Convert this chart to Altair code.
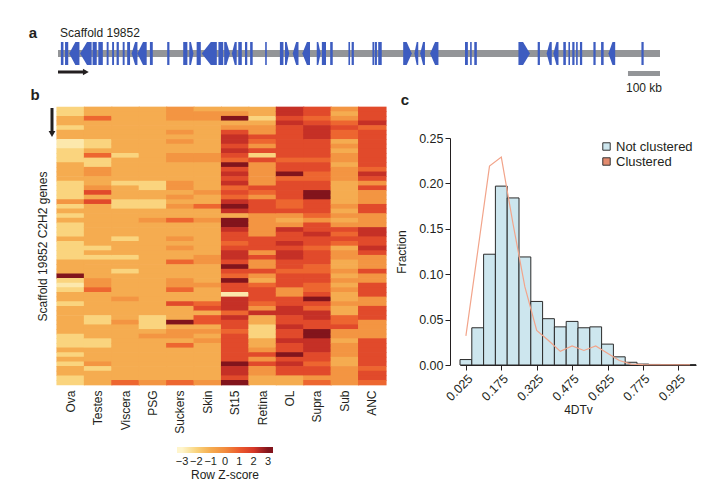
import altair as alt
import pandas as pd

FONT = "Liberation Sans"
INK = "#231f20"

# ---------------- panel a : scaffold with genes ----------------
scaffold_length_kb = 1880
scale_bar_kb = 100
gene_start_kb = [9, 22, 35, 69, 108, 126, 152, 169, 183, 202, 216, 230, 248, 287, 341, 391, 410, 433, 449, 501,
                 519, 543, 563, 584, 600, 647, 693, 709, 733, 763, 808, 824, 850, 907, 917, 982, 990, 1000, 1078, 1113,
                 1131, 1162, 1271, 1287, 1300, 1438, 1498, 1526, 1547, 1578, 1594, 1606, 1618, 1630, 1672, 1696, 1719, 1822]
gene_end_kb = [17, 32, 67, 105, 121, 140, 158, 175, 190, 208, 225, 248, 277, 296, 348, 404, 423, 446, 496, 516,
               537, 558, 574, 591, 608, 652, 704, 722, 751, 787, 820, 837, 858, 912, 924, 988, 996, 1011, 1105, 1125,
               1146, 1188, 1280, 1292, 1308, 1474, 1505, 1542, 1563, 1586, 1599, 1613, 1623, 1637, 1679, 1704, 1740, 1829]
gene_strand = ["|", "|", "<", "<", "|", "|", "|", "|", "|", "|", "|", "<", "<", "|", "|", "|", ">", "|", "<", "|",
               ">", "<", "|", "|", "|", "|", "|", ">", "<", "<", ">", "|", "|", "|", "|", "|", "|", "|", ">", "<",
               "<", "<", "|", "|", "|", ">", "|", "<", "<", "|", "|", "|", "|", "|", "|", "|", "<", "|"]

# ---------------- panel b : heatmap (row Z-scores) ----------------
tissues = ["Ova", "Testes", "Viscera", "PSG", "Suckers", "Skin", "St15", "Retina", "OL", "Supra", "Sub", "ANC"]
z_ova = [-2, -2, -1, -1, -2, -1, -1, -2.6, -2.6, -2, -2, -2, -1, -1, -1, -1, -2, -2, -2, -2,
         -0.3, -2, -1, -2, -1, -2, -2, -2, -1, -2, -2, -2, -2, -1, -1, -1, 3, -2, -2.6, -2,
         -1, -1, -2, -1, -1, -1, -1, -1, -1, -2, -2, -2, -1, -2, -1, -2, -1, -1, -2, -2]
z_testes = [-1, -1, 0.8, -1, -1, -1, -1, -2, -2, -1, 0.8, -2, -2, -0.3, -0.3, -1, -1, -0.3, 1.5, -1,
            1.5, -1, -1, -1, -1, -1, -1, -1, -1, -1, -2, -1, -2, -1, -1, -1, -1, -0.3, -0.3, 0.8,
            -1, -1, -1, -1, -1, -2, -2, -1, -1, -1, -2, -2, -1, -1, -1, -0.3, -2, -1, -1, -1]
z_viscera = [-1, -1, -1, -1, -1, -1, -1, -1, -1, -1, -2, -1, -1, -1, -1, -1, -2, -1, -1, -1,
             -2, -2, -1, -1, -1, -1, -1, -1, -2, -1, -1, -1, -2, -1, -1, -2, -1, -1, -1, -1,
             -1, -0.3, -1, -1, -1, -1, -0.3, -1, -1, -1, -1, -1, -1, -1, -1, -1, -1, -1, -1, 0.8]
z_psg = [-1, -1, -1, -1, -1, -1, -1, -1, -1, -1, -1, -1, -1, -1, -1, -1, -2, -2, -1, -1,
         -2, -2, -1, -1, -0.3, -1, -1, -1, -1, -1, -1, -1, -1, -1, -1, -1, -1, -1, -1, -1,
         -1, -1, -1, -1, -1, -2, -2, -2, -1, -0.3, -1, -1, -1, -1, -1, -1, -1, -1, -1, -0.3]
z_suckers = [-0.3, -0.3, -0.3, -1, -1, -0.3, -1, -0.3, -1, -1, -0.3, -0.3, -1, -1, -1, -1, -0.3, -0.3, -1, -0.3,
             -1, -0.3, -1, -1, 0.8, -1, -1, -1, -0.3, -1, -0.3, -1, -1, 0.8, -1, -1, -1, -0.3, -0.3, 0.8,
             -1, -1, 1.5, -1, -1, -1, 3, -1, -0.3, -0.3, -1, 0.8, -1, -1, -1, -1, -1, -1, -1, 0.8]
z_skin = [-1, -0.3, -0.3, -1, -1, -1, -1, -1, -1, -1, -0.3, -0.3, -1, -1, -1, -1, -1, -1, -0.3, -1,
          -1, 0.8, -1, -1, -0.3, -1, -1, -1, -1, -1, -1, -1, -0.3, -0.3, -1, -1, -1, -1, -0.3, -1,
          -1, -1, 0.8, 1.5, -1, 1.2, 1.2, -1, -0.3, -1, -0.3, -1, -1, -1, -1, -1, -1, -1, -1, -0.3]
z_st15 = [-1, -0.3, 3, -1, -0.3, 1.5, 2.2, 2.2, 1.5, 2.2, 1.5, 0.8, 3, 1.5, 2.2, 1.5, 2.2, 0.8, 1.5, 0.8,
          2.2, 3, 2.2, -1, 3, 3, 2.2, 1.5, 1.5, 0.8, 1.5, 2.2, 2.2, 1.5, 3, 1.5, 0.8, 3, 1.5, 1.5,
          -2.6, 2.2, 2.2, 2.2, 0.8, 2.2, 1.5, 1.5, 0.8, 1.5, 1.5, 1.5, 1.5, 1.5, 1.5, 3, 2.2, 2.2, 1.5, 3]
z_retina = [-1, -1, -2, -1, -0.3, -0.3, 1.5, 0.8, -0.3, 1.5, -2, 1.5, -0.3, -0.3, -0.3, -0.3, -0.3, 1.5, 0.8, -0.3,
            1.5, 1.5, 1.5, -0.3, -0.3, -0.3, -0.3, -0.3, 1.5, 1.5, 1.5, -0.3, 1.5, -0.3, -0.3, 1.5, -0.3, -1, 0.8, 1.5,
            1.5, 1.5, 0.8, -0.3, 2.2, -1, -1, -2, -2, -2, -1, -1, -0.3, 1.5, -0.3, 1.5, -0.3, -0.3, -1, -1]
z_ol = [2.2, 2.2, 1.5, 2.2, 1.5, 1.5, 1.5, 1.5, 1.5, 1.5, 1.5, 0.8, 1.5, 1.5, 3, 0.8, 1.5, 1.5, 1.5, 1.5,
        0.8, 0.8, 1.5, -0.3, -1, -0.3, 2.2, 1.5, 1.5, 2.2, 1.5, 2.2, 2.2, 1.5, 1.5, 0.8, 1.5, 1.5, 1.5, -0.3,
        -0.3, 1.5, 1.5, 2.2, 2.2, 1.5, 1.5, 2.2, 1.5, 1.5, 2.2, 1.5, 1.5, 3, 1.5, 2.2, 1.5, 1.5, -1, -1]
z_supra = [1.5, 1.5, 0.8, 1.5, 2.2, 2.2, 2.2, 1.5, 1.5, 1.5, 1.5, 0.8, 1.5, 1.5, 0.8, 0.8, 1.5, 1.5, 3, 3,
           1.5, 1.5, 1.5, 0.8, -0.3, 1.5, 1.5, 2.2, 1.5, 1.5, 0.8, 1.5, 1.5, 1.5, 0.8, 0.8, 1.5, 1.5, 0.8, 0.8,
           1.5, 3, 1.5, 0.8, 2.2, 2.2, 1.5, 1.5, 3, 3, 2.2, 2.2, 2.2, 1.5, 1.5, 0.8, 1.5, 1.5, -0.3, 0.8]
z_sub = [-0.3, -1, -0.3, 0.8, 1.5, 0.8, 0.8, -1, -0.3, -1, -0.3, -0.3, -1, -0.3, -0.3, -0.3, -1, -1, -1, -1,
         -1, -0.3, -1, -0.3, -1, -0.3, 1.5, 0.8, 1.5, 0.8, -1, -0.3, -0.3, -1, -1, -0.3, -1, -0.3, -1, -0.3,
         -1, -1, -0.3, -1, -1, 0.8, 0.8, 1.5, -0.3, -0.3, -1, -0.3, -0.3, -0.3, -1, -1, -0.3, -0.3, -0.3, -0.3]
z_anc = [1.5, 1.5, 1.5, 2.2, 0.8, 1.5, 1.5, 1.5, 1.5, 1.5, 1.5, 1.5, 1.5, 0.8, 2.2, 1.5, -0.3, 1.5, -0.3, -0.3,
         -0.3, 1.5, 1.5, -0.3, -0.3, -0.3, 2.2, 2.2, 1.5, 1.5, 2.2, 1.5, -0.3, -0.3, -0.3, 1.5, -0.3, -0.3, 1.5, 1.5,
         1.5, -0.3, -0.3, 1.5, 1.5, 1.5, -0.3, -0.3, -0.3, -0.3, 1.5, 1.5, 1.5, 1.5, 1.5, 1.5, 0.8, 1.5, 1.5, 0.8]
z_columns = [z_ova, z_testes, z_viscera, z_psg, z_suckers, z_skin, z_st15, z_retina, z_ol, z_supra, z_sub, z_anc]
legend_ticks = [-3, -2, -1, 0, 1, 2, 3]
# colour stops (z -> colour); the outer stops only pad the legend bar
heat_stops = [-3.35, -3, -2, -1, 0, 1, 2, 3, 3.35]
heat_colors = ["#fff5cc", "#fff5cc", "#fad47e", "#f5ac50", "#f28b3e", "#ec5b2e", "#d63828", "#82141c", "#82141c"]

# ---------------- panel c : 4DTv histogram ----------------
bin_center = [0.025, 0.075, 0.125, 0.175, 0.225, 0.275, 0.325, 0.375, 0.425, 0.475,
              0.525, 0.575, 0.625, 0.675, 0.725, 0.775, 0.825, 0.875, 0.925, 0.975]
not_clustered = [0.006, 0.041, 0.122, 0.197, 0.184, 0.119, 0.070, 0.051, 0.042, 0.048,
                 0.041, 0.042, 0.023, 0.009, 0.003, 0.001, 0.0006, 0.0005, 0.0005, 0.0004]
clustered = [0.032, 0.125, 0.219, 0.229, 0.155, 0.086, 0.038, 0.027, 0.015, 0.021,
             0.016, 0.021, 0.013, 0.005, 0.001, 0.0005, 0.0003, 0.0003, 0.0003, 0.0003]
x_ticks = [0.025, 0.175, 0.325, 0.475, 0.625, 0.775, 0.925]
y_ticks = [0, 0.05, 0.10, 0.15, 0.20, 0.25]
bin_width = 0.05

# ================= build tables =================
gene_rows = []
for i, (s, e, t) in enumerate(zip(gene_start_kb, gene_end_kb, gene_strand)):
    w = e - s
    if t == "<":
        pts = [(s, 0, 0), (s + 0.6 * w, 1, -1), (e, 1, -1)]
    elif t == ">":
        pts = [(s, 1, -1), (e - 0.6 * w, 1, -1), (e, 0, 0)]
    else:
        pts = [(s, 1, -1), (e, 1, -1)]
    for kb, top, bot in pts:
        gene_rows.append({"gene": i, "kb": kb, "top": top, "bottom": bot})
gene_df = pd.DataFrame(gene_rows)

heat_rows = []
for tissue, col in zip(tissues, z_columns):
    for r, z in enumerate(col):
        heat_rows.append({"tissue": tissue, "row": r, "z": z})
heat_df = pd.DataFrame(heat_rows)

hist_df = pd.DataFrame({"center": bin_center, "frac": not_clustered, "clustered": clustered})
hist_df["left"] = hist_df["center"] - bin_width / 2
hist_df["right"] = hist_df["center"] + bin_width / 2
hist_df["base"] = 0.0
hist_df["series"] = "Not clustered"


def note(text, x, y, **kw):
    return alt.Chart(pd.DataFrame({"t": [text]})).mark_text(**kw).encode(
        x=alt.value(x), y=alt.value(y), text="t:N")


# ================= panel a =================
xa = alt.Scale(domain=[0, scaffold_length_kb], range=[50, 652])
ya = alt.Scale(domain=[-1, 1], range=[57, 34])

backbone = alt.Chart(pd.DataFrame({"s": [0], "e": [scaffold_length_kb]})).mark_rect(color="#939598").encode(
    x=alt.X("s:Q", scale=xa, axis=None), x2="e:Q", y=alt.value(42), y2=alt.value(49))
genes = alt.Chart(gene_df).mark_area(color="#3d5cc0", orient="vertical").encode(
    x=alt.X("kb:Q", scale=xa, axis=None),
    y=alt.Y("top:Q", scale=ya, axis=None), y2="bottom:Q", detail="gene:N")
sbar = alt.Chart(pd.DataFrame({"s": [scaffold_length_kb - scale_bar_kb], "e": [scaffold_length_kb],
                               "m": [scaffold_length_kb - scale_bar_kb / 2], "lab": [f"{scale_bar_kb} kb"]}))
scale_rect = sbar.mark_rect(color="#939598").encode(
    x=alt.X("s:Q", scale=xa, axis=None), x2="e:Q", y=alt.value(63), y2=alt.value(68))
scale_text = sbar.mark_text(fontSize=12, color=INK, baseline="middle").encode(
    x=alt.X("m:Q", scale=xa, axis=None), y=alt.value(80), text="lab:N")
arrow_df = pd.DataFrame({"s": [0], "e": [82], "h": [87]})
arrow_line = alt.Chart(arrow_df).mark_rule(color=INK, strokeWidth=3).encode(
    x=alt.X("s:Q", scale=xa, axis=None), x2="e:Q", y=alt.value(64))
arrow_head = alt.Chart(arrow_df).mark_point(shape="triangle-right", filled=True, color=INK, size=45, opacity=1).encode(
    x=alt.X("h:Q", scale=xa, axis=None), y=alt.value(64))
panel_a = alt.layer(backbone, genes, scale_rect, scale_text, arrow_line, arrow_head)

# ================= panel b =================
xh = alt.Scale(domain=tissues, range=[49, 378], paddingInner=0, paddingOuter=0)
yh = alt.Scale(domain=list(range(len(z_ova))), range=[99, 377], paddingInner=0, paddingOuter=0)
zscale = alt.Scale(domain=heat_stops, range=heat_colors)
heat = alt.Chart(heat_df).mark_rect(
    width=alt.RelativeBandSize(1.04), height=alt.RelativeBandSize(1.15)
).encode(
    x=alt.X("tissue:N", scale=xh, sort=tissues,
            axis=alt.Axis(orient="bottom", offset=-101, labelAngle=270, ticks=False, domain=False,
                          labelPadding=5, labelFontSize=12, labelColor=INK, title=None)),
    y=alt.Y("row:O", scale=yh,
            axis=alt.Axis(orient="left", offset=-49, labels=False, ticks=False, domain=False, minExtent=0,
                          title="Scaffold 19852 C2H2 genes", titlePadding=8, titleFontSize=12,
                          titleFontWeight="normal", titleColor=INK)),
    color=alt.Color("z:Q", scale=zscale,
                    legend=alt.Legend(orient="none", legendX=169, legendY=439,
                                      direction="horizontal",
                                      gradientLength=96, gradientThickness=6, gradientStrokeWidth=0,
                                      values=legend_ticks, format="d", labelOverlap=False,
                                      labelFontSize=11, labelColor=INK, labelOffset=3,
                                      title="Row Z-score", titleOrient="bottom", titleAnchor="middle",
                                      titleFontSize=12, titleFontWeight="normal", titleColor=INK, titlePadding=3)))
v_arrow_line = note("", 0, 0).mark_rule(color=INK, strokeWidth=3).encode(
    x=alt.value(44), y=alt.value(100), y2=alt.value(123))
v_arrow_head = note("", 0, 0).mark_point(shape="triangle-down", filled=True, color=INK, size=45, opacity=1).encode(
    x=alt.value(44), y=alt.value(126))

# ================= panel c =================
xc = alt.Scale(domain=[0, 1], range=[452, 688])
yc = alt.Scale(domain=[0, 0.25], range=[357, 130])
bars = alt.Chart(hist_df).mark_rect(stroke="#2b2b2b", strokeWidth=1).encode(
    x=alt.X("left:Q", scale=xc,
            axis=alt.Axis(orient="bottom", offset=-121, values=x_ticks, format=".3f", labelAngle=315,
                          tickSize=5, labelPadding=2, labelFontSize=12.5, labelColor=INK, grid=False,
                          domainColor=INK, tickColor=INK, title="4DTv", titlePadding=2, titleFontSize=12,
                          titleFontWeight="normal", titleColor=INK)),
    x2="right:Q",
    y=alt.Y("frac:Q", scale=yc,
            axis=alt.Axis(orient="left", offset=-442, values=y_ticks, format=".2f", tickSize=5,
                          labelPadding=2, labelFontSize=12.5, labelColor=INK, grid=False, minExtent=0,
                          domainColor=INK, tickColor=INK, title="Fraction", titlePadding=10,
                          titleFontSize=12, titleFontWeight="normal", titleColor=INK)),
    y2="base:Q",
    fill=alt.Fill("series:N", scale=alt.Scale(domain=["Not clustered", "Clustered"], range=["#cde6ee", "#e38b6e"]),
                  legend=alt.Legend(orient="none", legendX=592, legendY=132, title=None, symbolType="square",
                                    symbolSize=55, symbolStrokeColor="#333333", symbolStrokeWidth=1,
                                    labelFontSize=13, labelColor=INK, labelOffset=3, rowPadding=1)))
line = alt.Chart(hist_df).mark_line(color="#f2a48a", strokeWidth=1.2).encode(
    x=alt.X("center:Q", scale=xc), y=alt.Y("clustered:Q", scale=yc))
panel_c = alt.layer(bars, line)

# ================= text =================
lab_a = note("a", 25, 25, fontSize=15, fontWeight="bold", color=INK)
lab_b = note("b", 27, 87, fontSize=15, fontWeight="bold", color=INK)
lab_c = note("c", 397, 92, fontSize=15, fontWeight="bold", color=INK)
scaffold_title = note("Scaffold 19852", 52, 25, fontSize=12, align="left", color=INK)

chart = alt.layer(
    panel_a, heat, panel_c, v_arrow_line, v_arrow_head, lab_a, lab_b, lab_c, scaffold_title
).resolve_scale(
    x="independent", y="independent", color="independent", fill="independent"
).properties(
    width=704, height=478, autosize=alt.AutoSizeParams(type="none"), padding=0
).configure(font=FONT).configure_view(stroke=None)

chart.save("out.html", embed_options={"renderer": "svg", "actions": False})
